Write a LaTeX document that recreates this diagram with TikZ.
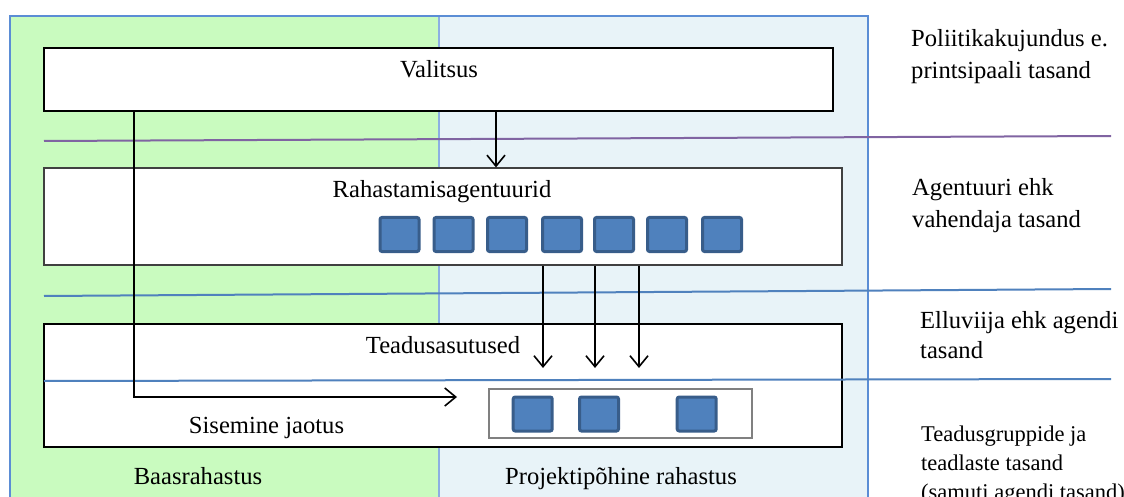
\documentclass[tikz,border=0pt]{standalone}
\usepackage{fontspec}
\setmainfont{Liberation Serif}
\usetikzlibrary{arrows.meta}
\definecolor{baasroheline}{HTML}{C9FBBF}
\definecolor{projsinine}{HTML}{E8F3F8}
\definecolor{raamsinine}{HTML}{5B8DD5}
\definecolor{joonlilla}{HTML}{8064A2}
\definecolor{joonsinine}{HTML}{4F81BD}
\definecolor{ruutsisu}{HTML}{4F81BD}
\definecolor{ruutaar}{HTML}{385D8A}
\tikzset{
  kast/.style={draw=black, fill=white, line width=1.2pt, inner sep=0pt},
  ruut/.style={draw=ruutaar, fill=ruutsisu, line width=3pt, rounded corners=2pt,
    minimum width=39pt, minimum height=34pt, inner sep=0pt},
  silt/.style={anchor=base, inner sep=0pt, font=\fontsize{24.6pt}{30pt}\selectfont},
  tasand/.style={anchor=base west, inner sep=0pt, font=\fontsize{24.6pt}{30pt}\selectfont},
  vaiketasand/.style={anchor=base west, inner sep=0pt, font=\fontsize{22.5pt}{28pt}\selectfont},
  noolt/.style={-{Straight Barb[length=11pt,width=18pt]}, line width=1.6pt},
}
\begin{document}
\begin{tikzpicture}[x=1pt,y=-1pt]
    \clip (0,0) rectangle (1124,497);
    \fill[white] (0,0) rectangle (1124,497);
    % taust: baas- ja projektirahastus
    \fill[baasroheline] (10,16) rectangle (439,520);
    \fill[projsinine] (439,16) rectangle (868,520);
    \draw[raamsinine!70, line width=1.5pt] (439,16) -- (439,520);
    \draw[raamsinine, line width=2.5pt] (10,520) -- (10,16) -- (868,16) -- (868,520);
    % tasandite kastid
    \node[kast, minimum width=789pt, minimum height=63pt] (valitsus) at (438.5,79.5) {};
    \node[silt] (valitsustekst) at (439,78) {Valitsus};
    \node[kast, draw=black!75, minimum width=798pt, minimum height=97pt] (agentuurid) at (443,216.5) {};
    \node[silt] (agentuuridtekst) at (442,198) {Rahastamisagentuurid};
    \node[kast, minimum width=798pt, minimum height=123pt] (asutused) at (443,385.5) {};
    \node[silt] (asutusedtekst) at (443,353) {Teadusasutused};
    \node[kast, draw=black!50, minimum width=263pt, minimum height=49pt] (grupid) at (620.5,413.5) {};
    \foreach \x [count=\i] in {399.5,453.5,507,562,614,667,722}
        \node[ruut] (agentuur\i) at (\x,234.5) {};
    \foreach \x [count=\i] in {532.7,599,696.7}
        \node[ruut] (grupp\i) at (\x,414) {};
    % tasandite piirjooned
    \draw[joonlilla, line width=2pt] (44,141) -- (1111,136);
    \draw[joonsinine, line width=2pt] (44,296) -- (1111,289);
    \draw[joonsinine, line width=2pt] (44,381) -- (1111,379);
    % rahavood
    \draw[noolt] ([xshift=57.5pt]valitsus.south) -- ([xshift=57.5pt]valitsus.south |- agentuurid.north);
    \foreach \x [count=\i] in {543,595,639} {
        \coordinate (projekt\i) at (\x,368);
        \draw[noolt] (agentuurid.south -| projekt\i) -- (projekt\i);
    }
    \coordinate (jaotusots) at (457,397);
    \draw[noolt] ([xshift=-304.5pt]valitsus.south) |- (jaotusots);
    \node[silt] (sisemine) at (266.5,433) {Sisemine jaotus};
    \node[silt] (baas) at (198,484) {Baasrahastus};
    \node[silt] (projekt) at (621,484) {Projektipõhine rahastus};
    % tasandite nimetused
    \node[tasand] (poliitika1) at (911,47) {Poliitikakujundus e.};
    \node[tasand] (poliitika2) at (911,79) {printsipaali tasand};
    \node[tasand] (agentuur1) at (912,196) {Agentuuri ehk};
    \node[tasand] (agentuur2) at (912,227) {vahendaja tasand};
    \node[tasand] (elluviija1) at (920,328) {Elluviija ehk agendi};
    \node[tasand] (elluviija2) at (920,358) {tasand};
    \node[vaiketasand] (teadlased1) at (921,441) {Teadusgruppide ja};
    \node[vaiketasand] (teadlased2) at (921,470) {teadlaste tasand};
    \node[vaiketasand] (teadlased3) at (921,499) {(samuti agendi tasand)};
\end{tikzpicture}
\end{document}
